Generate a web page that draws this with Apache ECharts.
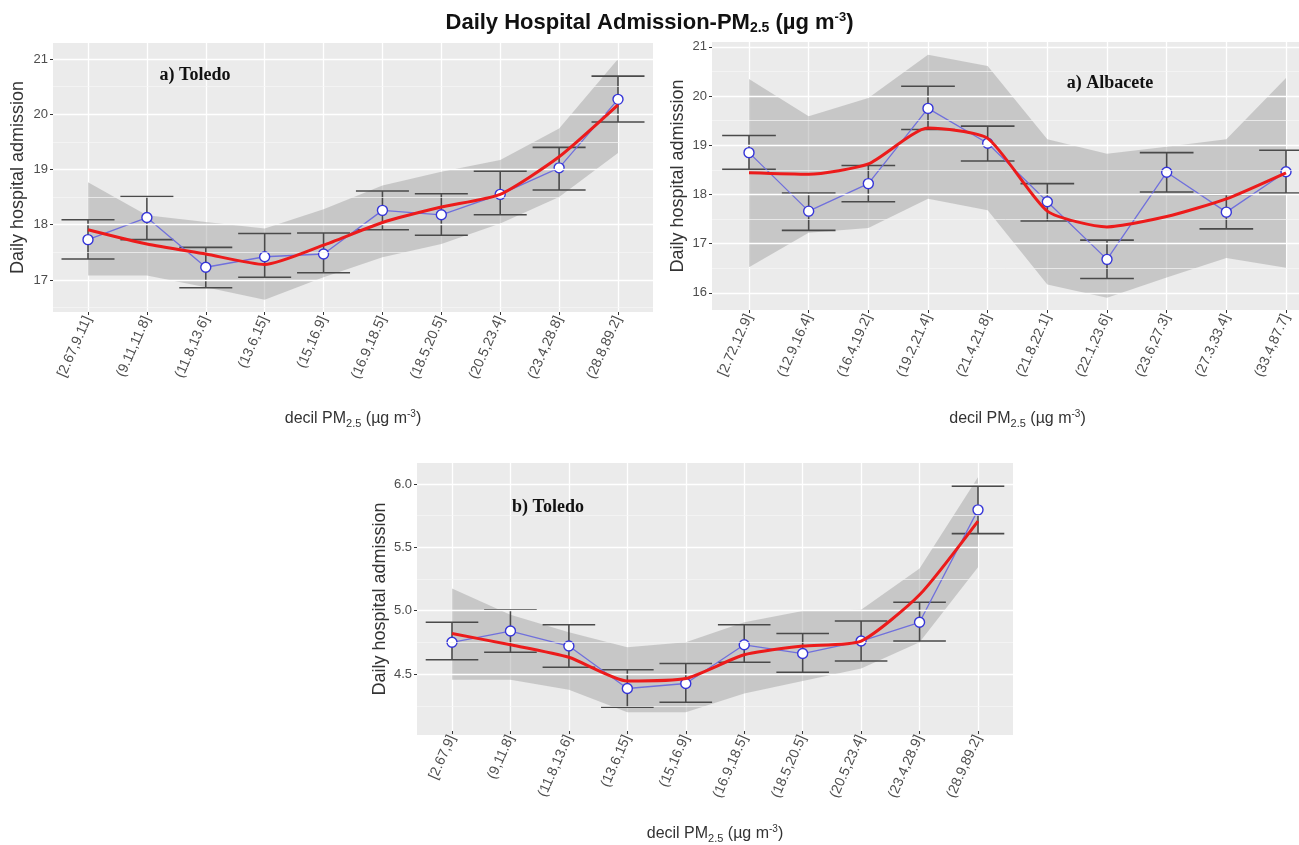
<!DOCTYPE html>
<html>
<head>
<meta charset="utf-8">
<script src="https://cdn.jsdelivr.net/npm/echarts@6/dist/echarts.min.js"></script>
<style>html,body{margin:0;padding:0;background:#fff}#c{width:1299px;height:845px}</style>
</head>
<body>
<div id="c"></div>
<script>
// ---------- DATA ----------
const catsToledoA = ['[2.67,9.11]','(9.11,11.8]','(11.8,13.6]','(13.6,15]','(15,16.9]','(16.9,18.5]','(18.5,20.5]','(20.5,23.4]','(23.4,28.8]','(28.8,89.2]'];
const meanToledoA = [17.73,18.13,17.23,17.42,17.47,18.26,18.18,18.55,19.03,20.27];
const errLowToledoA = [17.38,17.73,16.86,17.05,17.13,17.91,17.81,18.18,18.63,19.86];
const errHighToledoA = [18.09,18.51,17.59,17.84,17.85,18.61,18.56,18.97,19.40,20.69];
const fitToledoA = [17.91,17.65,17.47,17.28,17.63,18.04,18.32,18.55,19.23,20.17];
const bandLowToledoA = [17.08,17.08,16.87,16.64,17.05,17.41,17.65,18.02,18.50,19.30];
const bandHighToledoA = [18.77,18.17,18.05,17.93,18.28,18.71,18.96,19.17,19.74,21.00];
const ticksToledoA = [17,18,19,20,21];
const minorToledoA = [16.5,17.5,18.5,19.5,20.5];

const catsAlbacete = ['[2.72,12.9]','(12.9,16.4]','(16.4,19.2]','(19.2,21.4]','(21.4,21.8]','(21.8,22.1]','(22.1,23.6]','(23.6,27.3]','(27.3,33.4]','(33.4,87.7]'];
const meanAlbacete = [18.85,17.66,18.22,19.75,19.04,17.85,16.68,18.45,17.64,18.46];
const errLowAlbacete = [18.51,17.27,17.85,19.32,18.68,17.46,16.29,18.05,17.30,18.03];
const errHighAlbacete = [19.20,18.03,18.59,20.20,19.39,18.22,17.07,18.85,18.00,18.90];
const fitAlbacete = [18.44,18.41,18.62,19.35,19.14,17.66,17.34,17.55,17.91,18.44];
const bandLowAlbacete = [16.52,17.22,17.32,17.91,17.68,16.17,15.90,16.31,16.71,16.51];
const bandHighAlbacete = [20.35,19.59,19.96,20.84,20.61,19.12,18.83,18.97,19.12,20.37];
const ticksAlbacete = [16,17,18,19,20,21];
const minorAlbacete = [16.5,17.5,18.5,19.5,20.5];

const catsToledoB = ['[2.67,9]','(9,11.8]','(11.8,13.6]','(13.6,15]','(15,16.9]','(16.9,18.5]','(18.5,20.5]','(20.5,23.4]','(23.4,28.9]','(28.9,89.2]'];
const meanToledoB = [4.73,4.82,4.70,4.36,4.40,4.71,4.64,4.74,4.89,5.79];
const errLowToledoB = [4.59,4.65,4.53,4.21,4.25,4.57,4.49,4.58,4.74,5.60];
const errHighToledoB = [4.89,4.99,4.87,4.51,4.56,4.87,4.80,4.90,5.05,5.98];
const fitToledoB = [4.80,4.71,4.61,4.42,4.44,4.63,4.70,4.74,5.11,5.70];
const bandLowToledoB = [4.43,4.43,4.35,4.17,4.17,4.32,4.42,4.52,4.73,5.33];
const bandHighToledoB = [5.16,4.95,4.81,4.69,4.73,4.89,4.98,4.99,5.32,6.05];
const ticksToledoB = [4.5,5.0,5.5,6.0];
const minorToledoB = [4.25,4.75,5.25,5.75];

// ---------- LAYOUT ----------
const panels = [
  {cats:catsToledoA, mean:meanToledoA, lo:errLowToledoA, hi:errHighToledoA, fit:fitToledoA, bl:bandLowToledoA, bh:bandHighToledoA,
   ticks:ticksToledoA, minor:minorToledoA, ymin:16.42, ymax:21.29, dec:0,
   bg:{left:53,top:43,width:600,height:269}, inner:{left:88,top:43,width:530,height:269}, nameGapY:26, nameGapX:97,
   label:'a) Toledo', lx:195, ly:75},
  {cats:catsAlbacete, mean:meanAlbacete, lo:errLowAlbacete, hi:errHighAlbacete, fit:fitAlbacete, bl:bandLowAlbacete, bh:bandHighAlbacete,
   ticks:ticksAlbacete, minor:minorAlbacete, ymin:15.65, ymax:21.10, dec:0,
   bg:{left:712,top:42,width:610,height:268}, inner:{left:749,top:42,width:537,height:268}, nameGapY:25, nameGapX:99,
   label:'a) Albacete', lx:1110, ly:83},
  {cats:catsToledoB, mean:meanToledoB, lo:errLowToledoB, hi:errHighToledoB, fit:fitToledoB, bl:bandLowToledoB, bh:bandHighToledoB,
   ticks:ticksToledoB, minor:minorToledoB, ymin:4.02, ymax:6.165, dec:1,
   bg:{left:417,top:463,width:596,height:272}, inner:{left:452,top:463,width:526,height:272}, nameGapY:28, nameGapX:93,
   label:'b) Toledo', lx:548, ly:507}
];

const grid=[], xAxis=[], yAxis=[], series=[], graphic=[];
const txtColor='#4d4d4d';
const xName = '{n|decil PM}{s|2.5}{n| (µg m}{p|-3}{n|)}';
const xNameRich = {n:{fontSize:16,color:'#333',fontFamily:'Liberation Sans'}, s:{fontSize:11,color:'#333',verticalAlign:'bottom',padding:[8,0,0,0],fontFamily:'Liberation Sans'}, p:{fontSize:10,color:'#333',verticalAlign:'top',padding:[0,0,10,0],fontFamily:'Liberation Sans'}};

panels.forEach((p,i)=>{
  const gA = grid.length, gB = gA+1;
  grid.push(Object.assign({show:true, backgroundColor:'#ebebeb', borderWidth:0, containLabel:false}, p.bg));
  grid.push(Object.assign({show:false, containLabel:false}, p.inner));
  // background grid axes
  xAxis.push({type:'value', gridIndex:gA, min:0, max:1, show:false});
  yAxis.push({type:'value', gridIndex:gA, min:p.ymin, max:p.ymax, splitNumber:5,
    name:'Daily hospital admission', nameLocation:'middle', nameGap:p.nameGapY, nameRotate:90,
    nameTextStyle:{fontSize:18, color:'#333', fontFamily:'Liberation Sans'},
    axisLine:{show:false}, splitLine:{show:false},
    axisTick:{show:true, customValues:p.ticks, length:3, lineStyle:{color:'#333'}},
    axisLabel:{customValues:p.ticks, fontSize:13, color:txtColor, fontFamily:'Liberation Sans', margin:5,
      formatter:v=>p.dec?v.toFixed(1):String(Math.round(v))}
  });
  const xA = xAxis.length-1, yA = yAxis.length-1;
  series.push({type:'line', xAxisIndex:xA, yAxisIndex:yA, data:[], silent:true,
    markLine:{silent:true, symbol:['none','none'], label:{show:false}, animation:false,
      data: p.ticks.map(v=>({yAxis:v, lineStyle:{color:'#ffffff', width:1.3, type:'solid'}}))
        .concat(p.minor.map(v=>({yAxis:v, lineStyle:{color:'#f7f7f7', width:0.7, type:'solid'}})))
    }});
  // inner grid axes
  xAxis.push({type:'category', gridIndex:gB, data:p.cats, boundaryGap:false,
    name:xName, nameLocation:'middle', nameGap:p.nameGapX, nameTextStyle:{rich:xNameRich},
    axisLine:{show:false}, axisTick:{show:true, alignWithLabel:true, length:3, lineStyle:{color:'#333'}},
    splitLine:{show:true, lineStyle:{color:'#ffffff', width:1.3}},
    axisLabel:{rotate:66, fontSize:14, color:txtColor, fontFamily:'Liberation Sans', margin:5, interval:0}
  });
  yAxis.push({type:'value', gridIndex:gB, min:p.ymin, max:p.ymax, show:false, splitLine:{show:false}});
  const xb = xAxis.length-1, yb = yAxis.length-1;
  // ribbon
  series.push({type:'line', xAxisIndex:xb, yAxisIndex:yb, data:p.bl, stack:'band'+i, symbol:'none', lineStyle:{opacity:0}, silent:true, z:2});
  series.push({type:'line', xAxisIndex:xb, yAxisIndex:yb, data:p.bh.map((v,k)=>+(v-p.bl[k]).toFixed(3)), stack:'band'+i, symbol:'none',
    lineStyle:{opacity:0}, areaStyle:{color:'rgba(150,150,150,0.42)', opacity:1}, silent:true, z:2});
  // error bars
  series.push({type:'custom', xAxisIndex:xb, yAxisIndex:yb, z:3, silent:true,
    data:p.cats.map((c,k)=>[k,p.lo[k],p.hi[k]]),
    renderItem:(params,api)=>{
      const x=api.value(0), lo=api.coord([x,api.value(1)]), hi=api.coord([x,api.value(2)]);
      const hw=api.size([1,0])[0]*0.45;
      const st={stroke:'#4a4a4a', lineWidth:1.6};
      return {type:'group', children:[
        {type:'line', shape:{x1:hi[0],y1:hi[1],x2:lo[0],y2:lo[1]}, style:st},
        {type:'line', shape:{x1:hi[0]-hw,y1:hi[1],x2:hi[0]+hw,y2:hi[1]}, style:st},
        {type:'line', shape:{x1:lo[0]-hw,y1:lo[1],x2:lo[0]+hw,y2:lo[1]}, style:st}
      ]};
    }});
  // blue observed line
  series.push({type:'line', xAxisIndex:xb, yAxisIndex:yb, data:p.mean, z:4, silent:true,
    lineStyle:{color:'#7070dc', width:1.3}, symbol:'circle', symbolSize:10,
    itemStyle:{color:'#ffffff', borderColor:'#3535d8', borderWidth:1.4}});
  // red fitted line
  series.push({type:'line', xAxisIndex:xb, yAxisIndex:yb, data:p.fit, z:5, silent:true, smooth:0.2,
    lineStyle:{color:'#ec1b1b', width:3}, symbol:'none'});
  graphic.push({type:'text', x:p.lx, y:p.ly, z:100,
    style:{text:p.label, font:'bold 18px "Liberation Serif"', fill:'#111', textAlign:'center', textVerticalAlign:'middle'}});
});

const chart = echarts.init(document.getElementById('c'), null, {renderer:'canvas'});
chart.setOption({
  animation:false,
  backgroundColor:'#ffffff',
  title:{text:'{t|Daily Hospital Admission-PM}{s|2.5}{t| (µg m}{p|-3}{t|)}', left:'center', top:6,
    textStyle:{rich:{t:{fontSize:22,fontWeight:'bold',color:'#111',fontFamily:'Liberation Sans'},
      s:{fontSize:14,fontWeight:'bold',color:'#111',fontFamily:'Liberation Sans',verticalAlign:'bottom',padding:[10,0,0,0]},
      p:{fontSize:13,fontWeight:'bold',color:'#111',fontFamily:'Liberation Sans',verticalAlign:'top',padding:[0,0,11,0]}}}},
  grid, xAxis, yAxis, series, graphic
});
</script>
</body>
</html>
